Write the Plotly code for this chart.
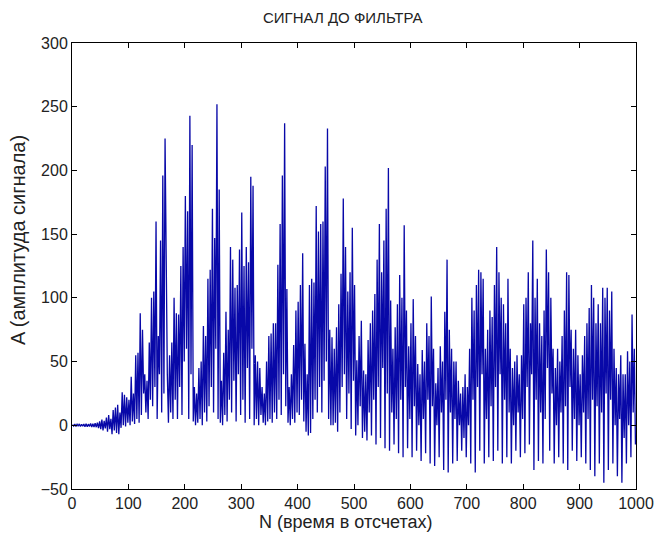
import plotly.graph_objects as go

# Peak values (one per 4-sample slot, at samples 1,5,9,...,997)
peaks = [
    0.6, 0.9, 0.7, 1.1, 0.8,
    1.0, 1.3, 0.9, 1.5, 1.2,
    1.6, 2.0, 3.0, 4.5, 3.5,
    6, 8, 5, 12, 14,
    16, 10, 26, 24, 22,
    20, 38, 25, 55, 57,
    88, 75, 40, 35, 65,
    100, 105, 160, 70, 145,
    196, 225, 40, 55, 65,
    100, 88, 87, 125, 140,
    180, 168, 243, 220, 30,
    25, 45, 50, 78, 70,
    115, 122, 170, 147, 252,
    185, 35, 57, 89, 75,
    140, 130, 108, 110, 138,
    167, 125, 140, 128, 195,
    188, 55, 50, 45, 30,
    25, 50, 70, 72, 80,
    80, 126, 158, 196, 237,
    107, 30, 40, 63, 90,
    97, 110, 135, 64, 40,
    110, 115, 112, 172, 152,
    158, 160, 203, 233, 75,
    69, 60, 77, 95, 119,
    178, 140, 105, 120, 155,
    110, 51, 70, 82, 43,
    40, 67, 80, 90, 103,
    130, 158, 120, 145, 170,
    202, 98, 60, 77, 95,
    118, 100, 157, 90, 62,
    80, 99, 70, 48, 40,
    59, 50, 80, 70, 101,
    60, 33, 45, 62, 50,
    89, 130, 75, 60, 50,
    50, 35, 25, 30, 40,
    30, 60, 100, 90, 110,
    122, 120, 115, 60, 75,
    90, 85, 110, 140, 120,
    100, 95, 80, 115, 60,
    45, 50, 55, 40, 55,
    95, 100, 120, 80, 145,
    100, 115, 80, 70, 90,
    138, 120, 100, 60, 45,
    60, 50, 70, 90, 120,
    118, 75, 60, 75, 55,
    40, 55, 70, 80, 92,
    110, 100, 80, 95, 80,
    108, 100, 108, 90, 105,
    60, 45, 40, 55, 40,
    40, 58, 50, 87, 60,
]

# Trough values (at samples 3,7,11,...,999)
troughs = [
    -0.6, -0.9, -0.7, -1.0, -0.8,
    -1.1, -1.2, -1.0, -1.4, -1.3,
    -1.5, -2.2, -3.0, -4.0, -2.5,
    -5, -3, -7, -4, -6,
    -7, -2, 0, -1, 2,
    0, 3, 1, 5, 2,
    8, 25, 10, 5, 20,
    15, 30, 5, 40, 10,
    25, 90, 2, 10, 5,
    20, 5, 30, 8, 50,
    60, 5, 40, 3, 0,
    2, 5, 0, 10, 3,
    15, 30, 10, 60, 5,
    2, 0, 8, 3, 20,
    10, 35, 3, 40, 8,
    20, 2, 45, 5, 60,
    0, 5, 0, 8, 2,
    0, 3, 5, 2, 10,
    5, 20, 8, 40, 15,
    2, 0, 5, 2, 10,
    8, 20, 3, -5, -8,
    -6, 5, 20, 10, 30,
    10, 35, 50, 5, 0,
    0, 2, -5, 10, 30,
    40, 5, 25, -3, 35,
    -8, 0, 15, -10, -5,
    -12, 10, -8, 20, -15,
    30, -10, 45, -18, 25,
    -20, 10, -15, 5, -22,
    20, -25, 30, -18, 5,
    -25, 15, -20, 0, -28,
    5, -22, 20, -30, 15,
    -32, 0, -25, 10, -35,
    20, -37, 10, -30, 5,
    -28, 0, -20, -10, -25,
    0, -30, 20, -37, 30,
    -20, 40, -30, 5, -25,
    15, -28, 30, -20, 40,
    -30, 20, -25, 10, -30,
    0, -20, 10, -25, 5,
    -22, 30, -15, 40, -35,
    20, -28, 10, -30, 5,
    45, -20, 25, -30, 0,
    -25, 10, -30, 15, -35,
    30, -20, 5, -28, 0,
    -25, 10, -30, 5, -35,
    20, -40, 15, -30, 10,
    -45, 25, -35, 20, -30,
    0, -40, 5, -45, -10,
    -30, 0, -25, 10, -15,
]

x_ticks = [0, 100, 200, 300, 400, 500, 600, 700, 800, 900, 1000]
y_ticks = [-50, 0, 50, 100, 150, 200, 250, 300]

title_text = "СИГНАЛ ДО ФИЛЬТРА"
x_label = "N (время в отсчетах)"
y_label = "A (амплитуда сигнала)"

peak_n = list(range(1, 1000, 4))
trough_n = list(range(3, 1000, 4))

n_vals, a_vals = [], []
for pn, pv, tn, tv in zip(peak_n, peaks, trough_n, troughs):
    n_vals += [pn, tn]
    a_vals += [pv, tv]

W, H = 654, 535
L, R, T, B = 72, 18, 43, 46
pw, ph = W - L - R, H - T - B

fam = "Liberation Sans, Arial, sans-serif"
tick_font = dict(family=fam, size=16, color="#222222")

fig = go.Figure(go.Scatter(x=n_vals, y=a_vals, mode="lines",
                           line=dict(color="#0808a8", width=1.3)))

axis_common = dict(showline=True, linecolor="black", linewidth=1, mirror="ticks",
                   ticks="inside", ticklen=5, tickcolor="black", showgrid=False,
                   zeroline=False, tickfont=tick_font, automargin=False)

fig.update_layout(
    width=W, height=H,
    margin=dict(l=L, r=R, t=T, b=B),
    paper_bgcolor="white", plot_bgcolor="white",
    showlegend=False,
    xaxis=dict(range=[0, 1000], tickvals=x_ticks, **axis_common),
    yaxis=dict(range=[-50, 300], tickvals=y_ticks, **axis_common),
    annotations=[
        dict(text=title_text, xref="paper", yref="paper", x=(342 - L) / pw, y=1 + (T - 18) / ph,
             xanchor="center", yanchor="middle", showarrow=False,
             font=dict(family=fam, size=15, color="#222222")),
        dict(text=x_label, xref="paper", yref="paper", x=(346 - L) / pw, y=-(522 - (T + ph)) / ph,
             xanchor="center", yanchor="middle", showarrow=False,
             font=dict(family=fam, size=18, color="#222222")),
        dict(text=y_label, xref="paper", yref="paper", x=-(L - 18) / pw, y=(T + ph - 240) / ph,
             xanchor="center", yanchor="middle", showarrow=False, textangle=-90,
             font=dict(family=fam, size=20, color="#222222")),
    ],
)

fig.write_html("out.html", config={"displayModeBar": False},
               post_script="document.body.style.margin='0px';document.body.style.overflow='hidden';")
